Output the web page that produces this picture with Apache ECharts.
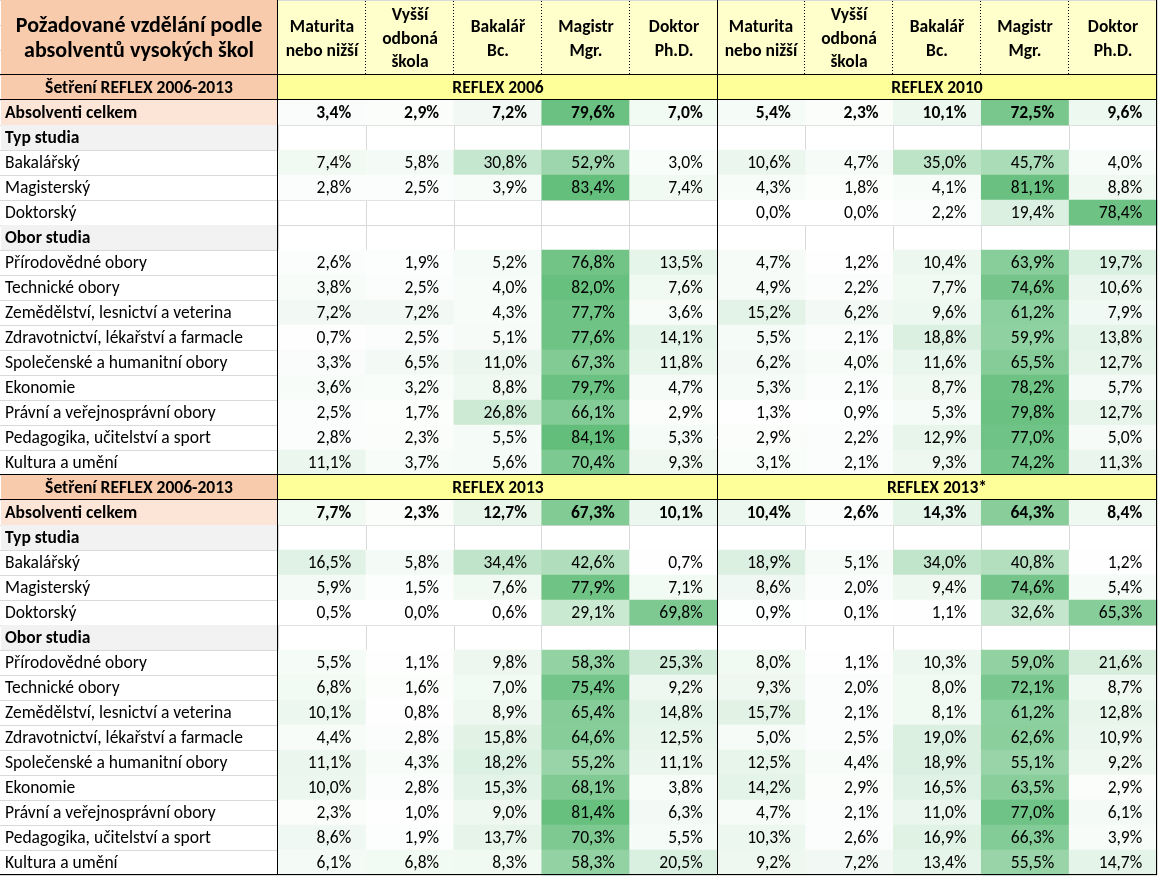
<!DOCTYPE html>
<html><head><meta charset="utf-8">
<script src="https://cdn.jsdelivr.net/npm/echarts@6/dist/echarts.min.js"></script>
<style>html,body{margin:0;padding:0;background:#fff}#c{width:1158px;height:876px}</style>
</head><body><div id="c"></div>
<script>
// ---------- DATA ----------
const tableTitle = 'Požadované vzdělání podle\nabsolventů vysokých škol';
const columnLabels = ['Maturita\nnebo nižší', 'Vyšší\nodboná\nškola', 'Bakalář\nBc.', 'Magistr\nMgr.', 'Doktor\nPh.D.'];
const sectionLabel = 'Šetření REFLEX 2006-2013';
const surveysTop = ['REFLEX 2006', 'REFLEX 2010'];
const surveysBottom = ['REFLEX 2013', 'REFLEX 2013*'];
const rowLabels = ['Absolventi celkem', 'Typ studia', 'Bakalářský', 'Magisterský', 'Doktorský', 'Obor studia',
  'Přírodovědné obory', 'Technické obory', 'Zemědělství, lesnictví a veterina', 'Zdravotnictví, lékařství a farmacle',
  'Společenské a humanitní obory', 'Ekonomie', 'Právní a veřejnosprávní obory', 'Pedagogika, učitelství a sport', 'Kultura a umění'];
const rowKinds = ['total', 'group', 'item', 'item', 'item', 'group',
  'item', 'item', 'item', 'item', 'item', 'item', 'item', 'item', 'item'];

const reflex2006 = [
  [3.4, 2.9, 7.2, 79.6, 7.0], null,
  [7.4, 5.8, 30.8, 52.9, 3.0], [2.8, 2.5, 3.9, 83.4, 7.4], null, null,
  [2.6, 1.9, 5.2, 76.8, 13.5], [3.8, 2.5, 4.0, 82.0, 7.6], [7.2, 7.2, 4.3, 77.7, 3.6], [0.7, 2.5, 5.1, 77.6, 14.1],
  [3.3, 6.5, 11.0, 67.3, 11.8], [3.6, 3.2, 8.8, 79.7, 4.7], [2.5, 1.7, 26.8, 66.1, 2.9], [2.8, 2.3, 5.5, 84.1, 5.3],
  [11.1, 3.7, 5.6, 70.4, 9.3]];
const reflex2010 = [
  [5.4, 2.3, 10.1, 72.5, 9.6], null,
  [10.6, 4.7, 35.0, 45.7, 4.0], [4.3, 1.8, 4.1, 81.1, 8.8], [0.0, 0.0, 2.2, 19.4, 78.4], null,
  [4.7, 1.2, 10.4, 63.9, 19.7], [4.9, 2.2, 7.7, 74.6, 10.6], [15.2, 6.2, 9.6, 61.2, 7.9], [5.5, 2.1, 18.8, 59.9, 13.8],
  [6.2, 4.0, 11.6, 65.5, 12.7], [5.3, 2.1, 8.7, 78.2, 5.7], [1.3, 0.9, 5.3, 79.8, 12.7], [2.9, 2.2, 12.9, 77.0, 5.0],
  [3.1, 2.1, 9.3, 74.2, 11.3]];
const reflex2013 = [
  [7.7, 2.3, 12.7, 67.3, 10.1], null,
  [16.5, 5.8, 34.4, 42.6, 0.7], [5.9, 1.5, 7.6, 77.9, 7.1], [0.5, 0.0, 0.6, 29.1, 69.8], null,
  [5.5, 1.1, 9.8, 58.3, 25.3], [6.8, 1.6, 7.0, 75.4, 9.2], [10.1, 0.8, 8.9, 65.4, 14.8], [4.4, 2.8, 15.8, 64.6, 12.5],
  [11.1, 4.3, 18.2, 55.2, 11.1], [10.0, 2.8, 15.3, 68.1, 3.8], [2.3, 1.0, 9.0, 81.4, 6.3], [8.6, 1.9, 13.7, 70.3, 5.5],
  [6.1, 6.8, 8.3, 58.3, 20.5]];
const reflex2013w = [
  [10.4, 2.6, 14.3, 64.3, 8.4], null,
  [18.9, 5.1, 34.0, 40.8, 1.2], [8.6, 2.0, 9.4, 74.6, 5.4], [0.9, 0.1, 1.1, 32.6, 65.3], null,
  [8.0, 1.1, 10.3, 59.0, 21.6], [9.3, 2.0, 8.0, 72.1, 8.7], [15.7, 2.1, 8.1, 61.2, 12.8], [5.0, 2.5, 19.0, 62.6, 10.9],
  [12.5, 4.4, 18.9, 55.1, 9.2], [14.2, 2.9, 16.5, 63.5, 2.9], [4.7, 2.1, 11.0, 77.0, 6.1], [10.3, 2.6, 16.9, 66.3, 3.9],
  [9.2, 7.2, 13.4, 55.5, 14.7]];

// ---------- BUILD ----------
const FONT = 'Carlito, Lato, "Open Sans", sans-serif';
const BODY = '17.5px';
const HEADER_ROWS = 3;
const BLOCK = rowLabels.length + 1;
const NROWS = HEADER_ROWS + 2 * BLOCK;
const rowCats = Array.from({length: NROWS}, (_, i) => String(i));
const colCats = columnLabels.concat(columnLabels).map((c, i) => 'c' + i);

const leftItems = [];
const rightItems = [];
const heatData = [];

leftItems.push({kind: 'header', r0: 0, r1: HEADER_ROWS - 1, text: tableTitle});
for (let c = 0; c < 10; c++) rightItems.push({kind: 'header', c0: c, c1: c, r0: 0, r1: HEADER_ROWS - 1, text: columnLabels[c % 5]});

function addBlock(start, surveys, dataA, dataB) {
  leftItems.push({kind: 'section', r0: start, r1: start, text: sectionLabel});
  rightItems.push({kind: 'section', c0: 0, c1: 4, r0: start, r1: start, text: surveys[0]});
  rightItems.push({kind: 'section', c0: 5, c1: 9, r0: start, r1: start, text: surveys[1]});
  rowLabels.forEach((lab, i) => {
    const r = start + 1 + i;
    leftItems.push({kind: rowKinds[i], r0: r, r1: r, text: lab});
    [dataA, dataB].forEach((d, k) => {
      if (!d[i]) return;
      d[i].forEach((v, j) => {
        const item = {value: [k * 5 + j, r, v]};
        if (rowKinds[i] === 'total') item.label = {fontWeight: 'bold'};
        heatData.push(item);
      });
    });
  });
}
addBlock(HEADER_ROWS, surveysTop, reflex2006, reflex2010);
addBlock(HEADER_ROWS + BLOCK, surveysBottom, reflex2013, reflex2013w);

// border lines
rightItems.push({kind: 'box', c0: 0, c1: 9, r0: HEADER_ROWS, r1: NROWS - 1});
rightItems.push({kind: 'vleft', c0: 0, c1: 0, r0: 0, r1: NROWS - 1});
rightItems.push({kind: 'vright', c0: 4, c1: 4, r0: 0, r1: NROWS - 1});
rightItems.push({kind: 'vright', c0: 9, c1: 9, r0: 0, r1: NROWS - 1});
leftItems.push({kind: 'bottom', r0: NROWS - 1, r1: NROWS - 1});

const crisp = v => Math.round(v) + 0.5;

function cellBox(api, c0, c1, r0, r1) {
  const a = api.coord([c0, r0]), b = api.coord([c1, r1]);
  const s = api.size([1, 1]);
  return {
    x0: Math.min(a[0], b[0]) - s[0] / 2, x1: Math.max(a[0], b[0]) + s[0] / 2,
    y0: Math.min(a[1], b[1]) - s[1] / 2, y1: Math.max(a[1], b[1]) + s[1] / 2
  };
}

function renderLeft(params, api) {
  const it = leftItems[params.dataIndex];
  const bx = cellBox(api, 0, 0, it.r0, it.r1);
  const x0 = Math.round(bx.x0), x1 = Math.round(bx.x1), y0 = Math.round(bx.y0), y1 = Math.round(bx.y1);
  const ch = [];
  const fills = {header: '#F8CBAD', section: '#F8CBAD', total: '#FCE4D6', group: '#F2F2F2'};
  if (it.kind === 'bottom') {
    return {type: 'line', shape: {x1: x0, y1: crisp(y1 - 1), x2: x1, y2: crisp(y1 - 1)}, style: {stroke: '#000', lineWidth: 1}};
  }
  if (fills[it.kind]) ch.push({type: 'rect', shape: {x: x0 + 1, y: y0, width: x1 - x0 - 1, height: y1 - y0}, style: {fill: fills[it.kind]}});
  if (it.kind === 'section') {
    ch.push({type: 'line', shape: {x1: x0, y1: crisp(y0 - 1), x2: x1, y2: crisp(y0 - 1)}, style: {stroke: '#000', lineWidth: 1}});
    ch.push({type: 'line', shape: {x1: x0, y1: crisp(y1 - 1), x2: x1, y2: crisp(y1 - 1)}, style: {stroke: '#000', lineWidth: 1}});
  }
  const centered = it.kind === 'header' || it.kind === 'section';
  const bold = it.kind !== 'item';
  ch.push({type: 'text', style: {
    text: it.text, x: centered ? (x0 + x1) / 2 : x0 + 5, y: (y0 + y1) / 2 + (it.kind === 'header' ? 1 : 1.5),
    align: centered ? 'center' : 'left', verticalAlign: 'middle',
    font: (bold ? 'bold ' : '') + (it.kind === 'header' ? '22px' : BODY) + ' ' + FONT,
    lineHeight: it.kind === 'header' ? 25 : 20, fill: '#000'
  }});
  return {type: 'group', children: ch};
}

function renderRight(params, api) {
  const it = rightItems[params.dataIndex];
  const bx = cellBox(api, it.c0, it.c1, it.r0, it.r1);
  const x0 = Math.round(bx.x0), x1 = Math.round(bx.x1), y0 = Math.round(bx.y0), y1 = Math.round(bx.y1);
  const blk = {stroke: '#000', lineWidth: 1};
  if (it.kind === 'box') {
    return {type: 'rect', shape: {x: crisp(x0 - 1), y: crisp(y0 - 1), width: x1 - x0, height: y1 - y0}, style: {fill: null, stroke: '#000', lineWidth: 1}};
  }
  if (it.kind === 'vleft') return {type: 'line', shape: {x1: crisp(x0 - 1), y1: y0, x2: crisp(x0 - 1), y2: y1}, style: blk};
  if (it.kind === 'vright') return {type: 'line', shape: {x1: crisp(x1 - 1), y1: y0, x2: crisp(x1 - 1), y2: y1}, style: blk};
  const ch = [];
  if (it.kind === 'header') {
    ch.push({type: 'rect', shape: {x: x0, y: y0 + 1, width: x1 - x0, height: y1 - y0 - 1}, style: {fill: '#FFFFCC'}});
    ch.push({type: 'line', shape: {x1: crisp(x1 - 1), y1: y0 + 1, x2: crisp(x1 - 1), y2: y1}, style: {stroke: '#000', lineWidth: 1, lineDash: [1, 2]}});
    ch.push({type: 'line', shape: {x1: x0, y1: 0.5, x2: x1, y2: 0.5}, style: {stroke: '#D9D9D9', lineWidth: 1}});
    ch.push({type: 'text', style: {text: it.text, x: (x0 + x1) / 2, y: (y0 + y1) / 2 + 2, align: 'center', verticalAlign: 'middle',
      font: 'bold ' + BODY + ' ' + FONT, lineHeight: 23.5, fill: '#000'}});
  } else if (it.kind === 'section') {
    ch.push({type: 'rect', shape: {x: x0, y: y0, width: x1 - x0, height: y1 - y0}, style: {fill: '#FFFF99'}});
    ch.push({type: 'line', shape: {x1: x0, y1: crisp(y0 - 1), x2: x1, y2: crisp(y0 - 1)}, style: blk});
    ch.push({type: 'line', shape: {x1: x0, y1: crisp(y1 - 1), x2: x1, y2: crisp(y1 - 1)}, style: blk});
    ch.push({type: 'text', style: {text: it.text, x: (x0 + x1) / 2, y: (y0 + y1) / 2 + 1.5, align: 'center', verticalAlign: 'middle',
      font: 'bold ' + BODY + ' ' + FONT, fill: '#000'}});
  }
  return {type: 'group', children: ch};
}

const hiddenAxis = {axisLine: {show: false}, axisTick: {show: false}, axisLabel: {show: false}};
const gridLine = {show: true, interval: 0, lineStyle: {color: '#D9D9D9', width: 1}};

const chart = echarts.init(document.getElementById('c'), null, {renderer: 'canvas'});
chart.setOption({
  animation: false,
  backgroundColor: '#fff',
  grid: [
    {left: 0, top: 0, width: 278, height: NROWS * 25, containLabel: false},
    {left: 278, top: 0, width: 879, height: NROWS * 25, containLabel: false}
  ],
  xAxis: [
    Object.assign({type: 'category', gridIndex: 0, data: ['label'], splitLine: {show: false}}, hiddenAxis),
    Object.assign({type: 'category', gridIndex: 1, data: colCats, splitLine: gridLine}, hiddenAxis)
  ],
  yAxis: [
    Object.assign({type: 'category', gridIndex: 0, data: rowCats, inverse: true, splitLine: gridLine}, hiddenAxis),
    Object.assign({type: 'category', gridIndex: 1, data: rowCats, inverse: true, splitLine: gridLine}, hiddenAxis)
  ],
  visualMap: {show: false, type: 'continuous', seriesIndex: 0, dimension: 2, min: 0, max: 84.1,
    inRange: {color: ['#FFFFFF', '#63BE7B']}},
  series: [
    {type: 'heatmap', xAxisIndex: 1, yAxisIndex: 1, data: heatData, z: 2,
      itemStyle: {borderWidth: 0},
      label: {show: true, position: 'insideRight', distance: 15, offset: [0, 1.5], color: '#000', fontSize: 17.5, fontFamily: FONT,
        formatter: p => p.value[2].toFixed(1).replace('.', ',') + '%'},
      emphasis: {disabled: true}},
    {type: 'custom', xAxisIndex: 0, yAxisIndex: 0, z: 3, renderItem: renderLeft,
      data: leftItems.map(it => [0, it.r0])},
    {type: 'custom', xAxisIndex: 1, yAxisIndex: 1, z: 4, renderItem: renderRight,
      data: rightItems.map(it => [it.c0, it.r0])}
  ]
});
</script></body></html>
